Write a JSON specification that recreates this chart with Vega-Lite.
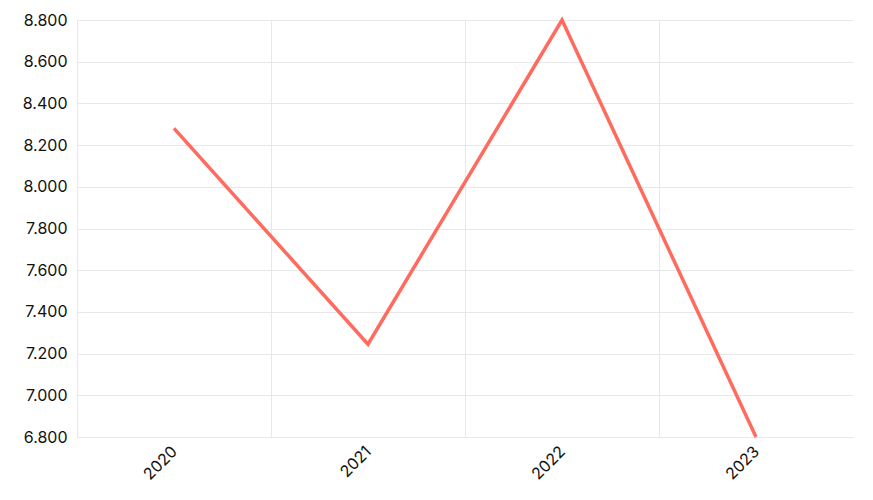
{
  "$schema": "https://vega.github.io/schema/vega-lite/v6.json",
  "autosize": {"type": "none"},
  "width": 776,
  "height": 417,
  "padding": {"left": 77, "top": 20, "right": 20, "bottom": 63},
  "background": "white",
  "config": {
    "view": {"stroke": null},
    "font": "Inter",
    "axis": {"labelFont": "Inter", "labelFontSize": 16, "labelColor": "#111111", "gridColor": "#e8e8e8", "gridWidth": 1, "domain": false, "ticks": false, "title": null}
  },
  "data": {
    "values": [
      {"year": "2020", "value": 8280},
      {"year": "2021", "value": 7245},
      {"year": "2022", "value": 8800},
      {"year": "2023", "value": 6800}
    ]
  },
  "mark": {"type": "line", "color": "#ff6b5e", "strokeWidth": 3.5},
  "encoding": {
    "x": {
      "field": "year", "type": "ordinal",
      "scale": {"type": "band", "paddingInner": 0, "paddingOuter": 0},
      "axis": {"labelAngle": -45, "grid": true, "bandPosition": 0, "labelOffset": -5, "labelPadding": 6}
    },
    "y": {
      "field": "value", "type": "quantitative",
      "scale": {"domain": [6800, 8800], "nice": false, "zero": false},
      "axis": {"values": [6800, 7000, 7200, 7400, 7600, 7800, 8000, 8200, 8400, 8600, 8800], "labelPadding": 10, "labelExpr": "replace(format(datum.value, ','), ',', '.')"}
    }
  }
}
